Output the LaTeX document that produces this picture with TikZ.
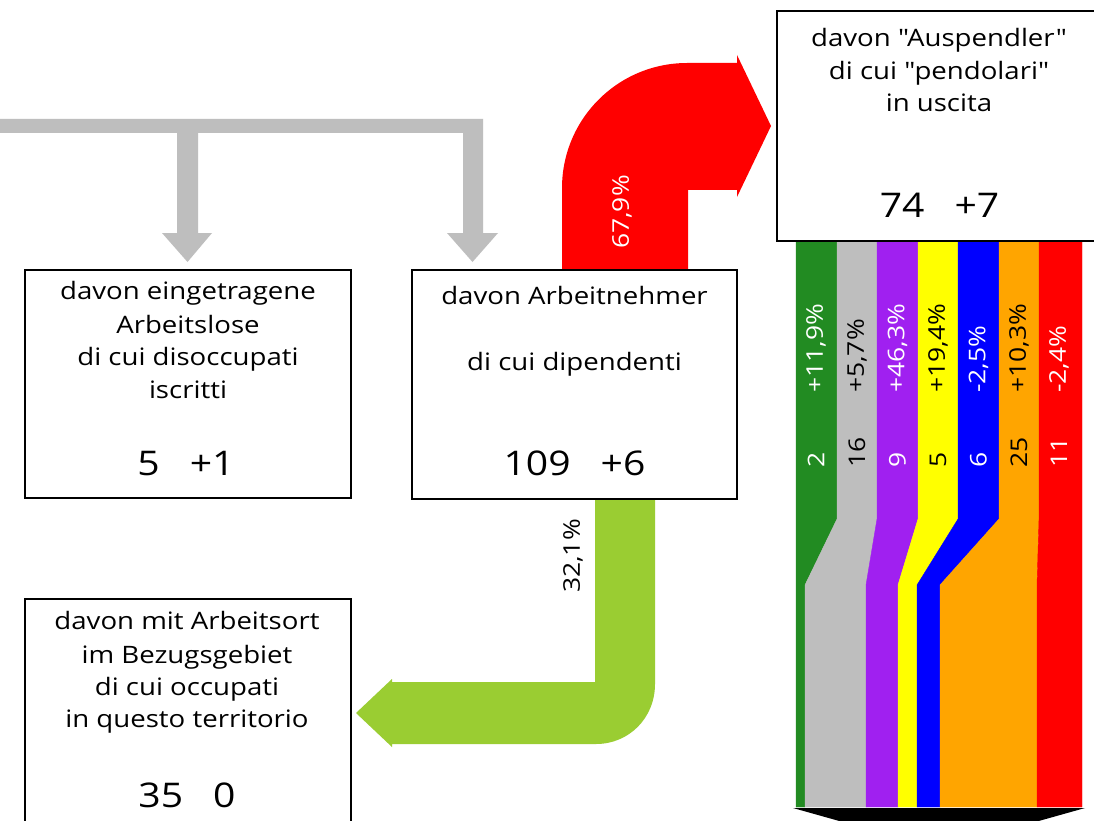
\documentclass[tikz,border=0pt]{standalone}
\usepackage{fontspec}
\setmainfont{Open Sans}[FakeStretch=1.15, Ligatures=TeXOff]
\definecolor{sgreen}{HTML}{228B22}
\definecolor{sgray}{HTML}{BEBEBE}
\definecolor{spurple}{HTML}{A020F0}
\definecolor{syellow}{HTML}{FFFF00}
\definecolor{sblue}{HTML}{0000FF}
\definecolor{sorange}{HTML}{FFA500}
\definecolor{sred}{HTML}{FF0000}
\definecolor{agreen}{HTML}{9ACD32}
\begin{document}
\begin{tikzpicture}[x=1pt,y=-1pt,
  box/.style={draw=black, line width=2pt, fill=white, inner sep=0pt, outer sep=0pt},
  txt/.style={anchor=base, inner sep=0pt, font=\fontsize{24}{33}\selectfont},
  num/.style={anchor=base, inner sep=0pt, font=\fontsize{34}{40}\selectfont},
  lab/.style={rotate=90, anchor=west, inner sep=0pt, font=\fontsize{23}{28}\selectfont},
  plab/.style={rotate=90, anchor=center, inner sep=0pt, font=\fontsize{23}{28}\selectfont}]
\useasboundingbox (0,0) rectangle (1094,821);
\clip (0,0) rectangle (1094,821);
\fill[white] (0,0) rectangle (1094,821);

% gray distribution arrows
\fill[sgray] (-5,119) -- (483,119) -- (483,233) -- (498,233) -- (472.5,262) -- (447,233) -- (463,233)
  -- (463,133) -- (198,133) -- (198,233) -- (212,233) -- (187.5,262) -- (162,233) -- (177,233)
  -- (177,133) -- (-5,133) -- cycle;

% red arrow
\fill[sred] (562,272) -- (562,188) .. controls (562,119) and (618,63) .. (687,63) -- (737,63)
  -- (737,55) -- (771,126) -- (737,197) -- (737,190) -- (688,190) -- (688,272) -- cycle;

% green arrow
\fill[agreen] (595,497) -- (595,682) -- (392,682) -- (392,679) -- (356,713) -- (392,747) -- (392,744)
  -- (596,744) .. controls (629,744) and (655,718) .. (655,684) -- (655,497) -- cycle;

% stripes
\foreach \lt/\rt/\lb/\rb/\c in {796/837/796/805/sgreen, 837/877/805/866/sgray,
    877/918/866/898/spurple, 918/958/898/917/syellow, 958/999/917/940/sblue,
    999/1039/940/1037/sorange, 1039/1082/1037/1082/sred}
  \filldraw[fill=\c, draw=\c, line width=0.4pt] (\lt,240) -- (\rt,240) -- (\rt,519) -- (\rb,585)
    -- (\rb,807) -- (\lb,807) -- (\lb,585) -- (\lt,519) -- cycle;

% bottom black arrow
\fill[black] (793,808) -- (1085,808) -- (939,849) -- cycle;

% boxes
\node[box, minimum width=326pt, minimum height=228pt] (lbox) at (188,384) {};
\node[box, minimum width=325pt, minimum height=229pt] (mbox) at (574.5,384.5) {};
\node[box, minimum width=326pt, minimum height=232pt] (bbox) at (188,715) {};
\node[box, minimum width=324pt, minimum height=230pt] (tbox) at (939,126) {};

% left box text
\node[txt] (l1) at (188,299) {davon eingetragene};
\node[txt] (l2) at (188,333) {Arbeitslose};
\node[txt] (l3) at (188,365) {di cui disoccupati};
\node[txt] (l4) at (188,398) {iscritti};
\node[num] (ln) at (186,475) {5\hspace{30pt}+1};

% middle box text
\node[txt] (m1) at (574.5,304) {davon Arbeitnehmer};
\node[txt] (m2) at (574.5,370) {di cui dipendenti};
\node[num] (mn) at (574.5,475) {109\hspace{30pt}+6};

% bottom-left box text
\node[txt] (b1) at (187,629) {davon mit Arbeitsort};
\node[txt] (b2) at (187,663) {im Bezugsgebiet};
\node[txt] (b3) at (187,695) {di cui occupati};
\node[txt] (b4) at (187,727) {in questo territorio};
\node[num] (bn) at (187,807) {35\hspace{30pt}0};

% top-right box text
\node[txt] (t1) at (939,47) {davon "Auspendler"};
\node[txt] (t2) at (939,80) {di cui "pendolari"};
\node[txt] (t3) at (939,112) {in uscita};
\node[num] (tn) at (939.5,217) {74\hspace{30pt}+7};

% arrow labels
\node[plab, text=white] (pr) at (622,212) {67,9\%};
\node[plab, text=black] (pg) at (573,556) {32,1\%};

% stripe labels
\foreach \x/\p/\n/\c [count=\i] in {816/{+11,9\%}/2/white, 857/{+5,7\%}/16/black,
    897.5/{+46,3\%}/9/white, 938/{+19,4\%}/5/black, 978.5/{-2,5\%}/6/white,
    1019/{+10,3\%}/25/black, 1059/{-2,4\%}/11/white}
{
  \node[lab, text=\c] (sp\i) at (\x,393) {\p};
  \node[lab, text=\c] (sn\i) at (\x,468) {\n};
}
\end{tikzpicture}
\end{document}
